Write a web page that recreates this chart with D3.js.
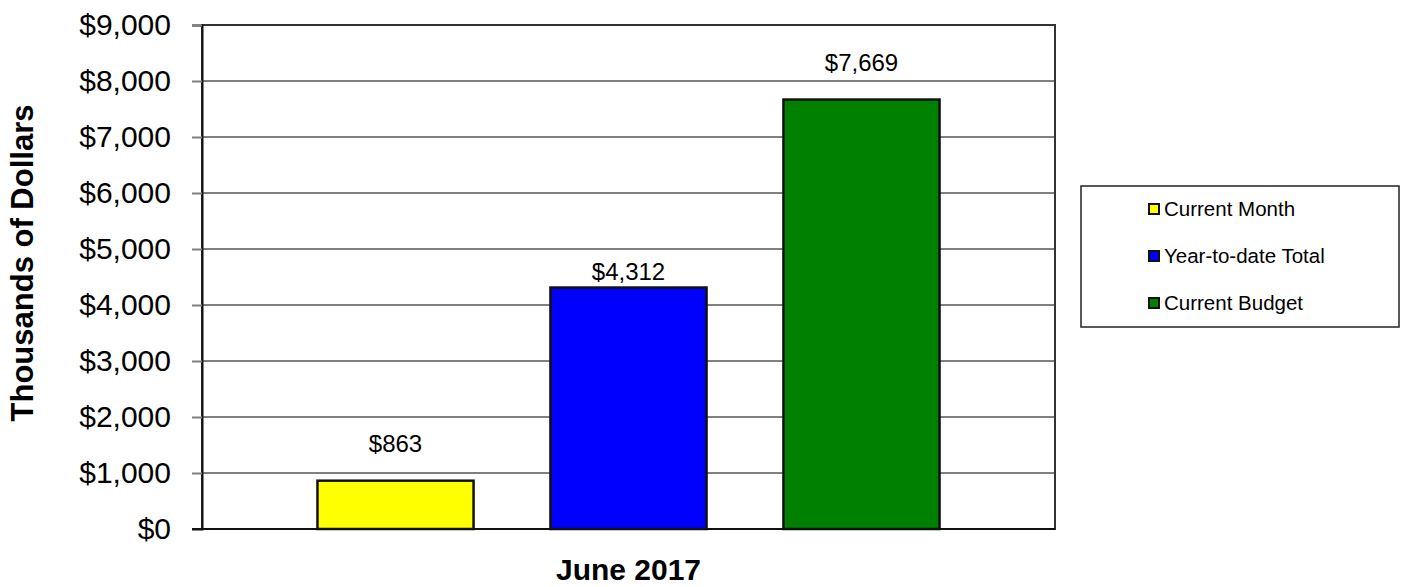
<!DOCTYPE html>
<html><head><meta charset="utf-8">
<script src="https://cdn.jsdelivr.net/npm/d3@7"></script>
<style>body{margin:0;background:#fff}svg{display:block;font-family:"Liberation Sans",Arial,sans-serif}</style>
</head><body><svg id="c" width="1406" height="587"></svg>
<script>
const categories = ["June 2017"];
const seriesNames = ["Current Month", "Year-to-date Total", "Current Budget"];
const seriesValues = [863, 4312, 7669];
const seriesColors = ["#ffff00", "#0000ff", "#008000"];
const yTicks = [0, 1000, 2000, 3000, 4000, 5000, 6000, 7000, 8000, 9000];
const yTitle = "Thousands of Dollars";
const labelGap = [29, 8, 29];

const svg = d3.select("#c");
const m = {l: 202, r: 1055, t: 25, b: 529};
const y = d3.scaleLinear().domain([0, 9000]).range([m.b, m.t]);
const x0 = d3.scaleBand().domain(categories).range([m.l, m.r]).paddingInner(0).paddingOuter(0.1856);
const x1 = d3.scaleBand().domain(seriesNames).range([0, x0.bandwidth()]).paddingInner(0.33).paddingOuter(0);
const fmt = d => "$" + d3.format(",")(d);

// gridlines
svg.append("g").selectAll("line").data(yTicks.filter(d => d > 0 && d < 9000)).join("line")
  .attr("x1", m.l).attr("x2", m.r).attr("y1", d => y(d)).attr("y2", d => y(d))
  .attr("stroke", "#808080").attr("stroke-width", 2);

// plot border
svg.append("rect").attr("x", m.l).attr("y", m.t).attr("width", m.r - m.l).attr("height", m.b - m.t)
  .attr("fill", "none").attr("stroke", "#333").attr("stroke-width", 2);

// y axis
const ya = d3.axisLeft(y).tickValues(yTicks).tickFormat(fmt).tickSize(10).tickPadding(21);
const gy = svg.append("g").attr("transform", `translate(${m.l},0)`).call(ya);
gy.select(".domain").attr("stroke", "#111").attr("stroke-width", 2);
gy.selectAll(".tick line").attr("stroke", "#808080").attr("stroke-width", 2);
gy.selectAll(".tick text").attr("font-size", 30).attr("fill", "#000").attr("font-family", "Liberation Sans, Arial, sans-serif");

// bottom axis line
svg.append("line").attr("x1", m.l - 10).attr("x2", m.r).attr("y1", m.b).attr("y2", m.b).attr("stroke", "#111").attr("stroke-width", 2);

// bars
const g = svg.append("g").attr("transform", `translate(${x0(categories[0])},0)`);
g.selectAll("rect").data(seriesValues).join("rect")
  .attr("x", (d, i) => x1(seriesNames[i])).attr("width", x1.bandwidth())
  .attr("y", d => y(d)).attr("height", d => y(0) - y(d))
  .attr("fill", (d, i) => seriesColors[i]).attr("stroke", "#111").attr("stroke-width", 2.5);
g.selectAll("text").data(seriesValues).join("text")
  .attr("x", (d, i) => x1(seriesNames[i]) + x1.bandwidth() / 2)
  .attr("y", (d, i) => y(d) - labelGap[i])
  .attr("text-anchor", "middle").attr("font-size", 24).text(fmt);

// x category label
svg.append("text").attr("x", x0(categories[0]) + x0.bandwidth() / 2).attr("y", 580)
  .attr("text-anchor", "middle").attr("font-size", 30).attr("font-weight", "bold").text(categories[0]);

// y title
svg.append("text").attr("transform", "translate(33,263) rotate(-90)")
  .attr("text-anchor", "middle").attr("font-size", 31).attr("font-weight", "bold").text(yTitle);

// legend
const lg = svg.append("g");
lg.append("rect").attr("x", 1081).attr("y", 186).attr("width", 318).attr("height", 141)
  .attr("fill", "#fff").attr("stroke", "#222").attr("stroke-width", 1.5);
const li = lg.selectAll("g.item").data(seriesNames).join("g").attr("class", "item")
  .attr("transform", (d, i) => `translate(1148,${209 + i * 47})`);
li.append("rect").attr("x", 1).attr("y", -5).attr("width", 10).attr("height", 10)
  .attr("fill", (d, i) => seriesColors[i]).attr("stroke", "#111").attr("stroke-width", 2);
li.append("text").attr("x", 16).attr("y", 7).attr("font-size", 20.5).text(d => d);
</script>
</body></html>
